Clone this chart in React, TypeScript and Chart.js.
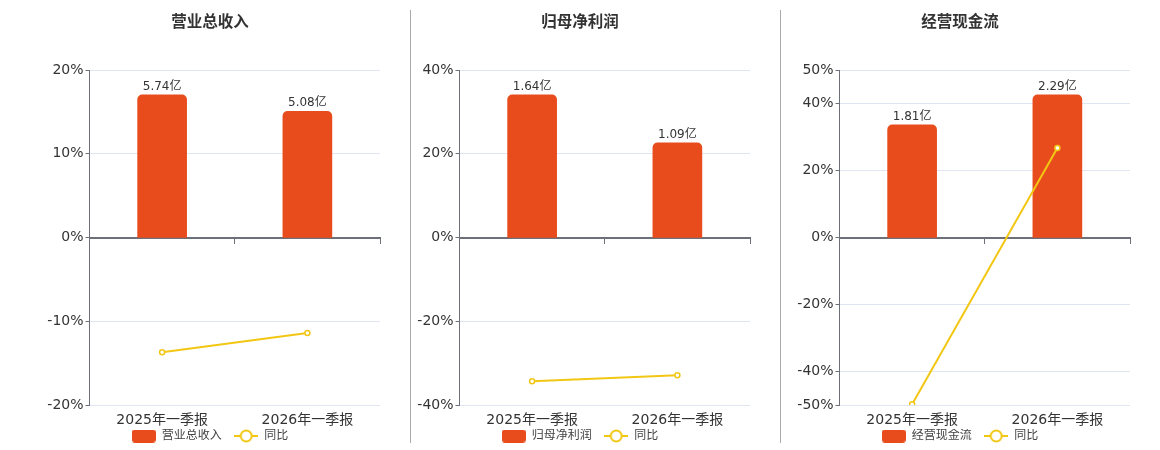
import { useEffect, useRef } from "react";
import { Chart, registerables } from "chart.js";

Chart.register(...registerables);

const categories = ["2025年一季报", "2026年一季报"];

const revenueTitle = "营业总收入";
const revenue = [5.74, 5.08];
const revenueYoy = [-13.7, -11.4];
const revenueTicks = [-20, -10, 0, 10, 20];

const profitTitle = "归母净利润";
const profit = [1.64, 1.09];
const profitYoy = [-34.3, -32.9];
const profitTicks = [-40, -20, 0, 20, 40];

const cashTitle = "经营现金流";
const cash = [1.81, 2.29];
const cashYoy = [-49.8, 26.7];
const cashTicks = [-50, -40, -20, 0, 20, 40, 50];

const yoyLabel = "同比";

const FONT = "'DejaVu Sans', 'Noto Sans CJK SC', sans-serif";
const BAR_COLOR = "#e84c1d";
const LINE_COLOR = "#f2c714";
const AXIS_COLOR = "#6e7079";
const GRID_COLOR = "#e0e6f1";

function makeBarIcon() {
  const c = document.createElement("canvas");
  c.width = 24;
  c.height = 13;
  const ctx = c.getContext("2d") as CanvasRenderingContext2D;
  ctx.fillStyle = BAR_COLOR;
  ctx.beginPath();
  ctx.roundRect(0, 0, 24, 13, 3);
  ctx.fill();
  return c;
}

function makeLineIcon() {
  const c = document.createElement("canvas");
  c.width = 24;
  c.height = 14;
  const ctx = c.getContext("2d") as CanvasRenderingContext2D;
  ctx.strokeStyle = LINE_COLOR;
  ctx.lineWidth = 2;
  ctx.beginPath();
  ctx.moveTo(0, 7);
  ctx.lineTo(24, 7);
  ctx.stroke();
  ctx.beginPath();
  ctx.arc(12, 7, 5.5, 0, Math.PI * 2);
  ctx.fillStyle = "#fff";
  ctx.fill();
  ctx.stroke();
  return c;
}

const barLabels = {
  id: "barLabels",
  afterDatasetsDraw(chart: any) {
    const meta = chart.getDatasetMeta(0);
    const values = chart.data.datasets[0].data as number[];
    const ctx = chart.ctx;
    ctx.save();
    ctx.font = `12px ${FONT}`;
    ctx.fillStyle = "#333";
    ctx.textAlign = "center";
    ctx.textBaseline = "bottom";
    meta.data.forEach((el: any, i: number) => {
      ctx.fillText(values[i].toFixed(2) + "亿", el.x, el.y - 2);
    });
    ctx.restore();
  },
};

interface PanelProps {
  title: string;
  values: number[];
  yoy: number[];
  ticks: number[];
  left: number;
}

function Panel({ title, values, yoy, ticks, left }: PanelProps) {
  const chartRef = useRef<HTMLCanvasElement>(null);

  useEffect(() => {
    if (!chartRef.current) return;
    const ctx = chartRef.current.getContext("2d") as CanvasRenderingContext2D;
    const barIcon = makeBarIcon();
    const lineIcon = makeLineIcon();
    const barMax = Math.max(...values) * 1.175;
    const yMin = ticks[0];
    const yMax = ticks[ticks.length - 1];

    const chart = new Chart(ctx, {
      type: "bar",
      data: {
        labels: categories,
        datasets: [
          {
            type: "bar",
            label: title,
            data: values,
            yAxisID: "yBar",
            backgroundColor: BAR_COLOR,
            borderRadius: { topLeft: 5, topRight: 5, bottomLeft: 0, bottomRight: 0 },
            barThickness: 49,
            order: 2,
          },
          {
            type: "line",
            label: yoyLabel,
            data: yoy,
            yAxisID: "y",
            borderColor: LINE_COLOR,
            borderWidth: 2,
            pointRadius: 2.5,
            pointBackgroundColor: "#fff",
            pointBorderColor: LINE_COLOR,
            pointBorderWidth: 1.5,
            order: 1,
          } as any,
        ],
      },
      options: {
        responsive: false,
        animation: false,
        layout: { padding: { left: 0, top: 0, bottom: 0, right: 5 }, autoPadding: false },
        plugins: {
          title: {
            display: true,
            text: title,
            color: "#333",
            font: { family: FONT, size: 15.5, weight: "bold" },
            padding: { top: 13.5, bottom: 37.9 },
          },
          legend: {
            position: "bottom",
            labels: {
              usePointStyle: true,
              pointStyleWidth: 24,
              padding: 1,
              color: "#444",
              font: { family: FONT, size: 12 },
              // padding is kept at 1 for the vertical fit, so the gap
              // between the two items comes from trailing spaces
              generateLabels: () => [
                {
                  text: title + "   ",
                  pointStyle: barIcon,
                  datasetIndex: 0,
                  hidden: false,
                  lineWidth: 0,
                  fontColor: "#444",
                },
                {
                  text: yoyLabel,
                  pointStyle: lineIcon,
                  datasetIndex: 1,
                  hidden: false,
                  lineWidth: 0,
                  fontColor: "#444",
                },
              ] as any,
            },
          },
          tooltip: { enabled: false },
        },
        scales: {
          x: {
            offset: true,
            grid: { display: false, drawTicks: false },
            border: { display: false },
            ticks: {
              color: "#333",
              padding: 7,
              font: { family: FONT, size: 14 },
            },
            afterFit: (axis: any) => {
              axis.height = 24;
            },
          },
          // zero line with tick marks at the category boundaries
          xZero: {
            type: "linear",
            axis: "x",
            position: { y: 0 },
            min: 0,
            max: categories.length,
            offset: false,
            z: 1,
            afterBuildTicks: (axis: any) => {
              axis.ticks = categories
                .map((_, i) => ({ value: i }))
                .concat([{ value: categories.length }]);
            },
            grid: {
              offset: false,
              drawOnChartArea: false,
              tickLength: 5,
              color: AXIS_COLOR,
            },
            border: { color: AXIS_COLOR, width: 2 },
            ticks: { display: false },
          } as any,
          y: {
            position: "left",
            min: yMin,
            max: yMax,
            afterBuildTicks: (axis: any) => {
              axis.ticks = ticks.map((v) => ({ value: v }));
            },
            grid: {
              color: GRID_COLOR,
              tickLength: 4,
              tickColor: AXIS_COLOR,
            },
            border: { color: AXIS_COLOR, width: 1 },
            ticks: {
              color: "#333",
              padding: 2,
              font: { family: FONT, size: 14 },
              callback: (v: any) => v + "%",
            },
            afterFit: (axis: any) => {
              axis.width = 49.5;
            },
          },
          yBar: {
            display: false,
            min: -barMax,
            max: barMax,
          },
        },
      },
      plugins: [barLabels],
    });

    return () => {
      chart.destroy();
    };
  }, [title, values, yoy, ticks]);

  return (
    <canvas
      ref={chartRef}
      width={345}
      height={452}
      style={{ position: "absolute", left, top: 0, width: 345, height: 452 }}
    />
  );
}

export default function App() {
  return (
    <div
      style={{
        position: "fixed",
        left: 0,
        top: 0,
        width: 1160,
        height: 450,
        overflow: "hidden",
        background: "#fff",
      }}
    >
      <Panel title={revenueTitle} values={revenue} yoy={revenueYoy} ticks={revenueTicks} left={40} />
      <div style={{ position: "absolute", left: 410, top: 10, width: 1, height: 433, background: "#aaa" }} />
      <Panel title={profitTitle} values={profit} yoy={profitYoy} ticks={profitTicks} left={410} />
      <div style={{ position: "absolute", left: 780, top: 10, width: 1, height: 433, background: "#aaa" }} />
      <Panel title={cashTitle} values={cash} yoy={cashYoy} ticks={cashTicks} left={790} />
    </div>
  );
}
